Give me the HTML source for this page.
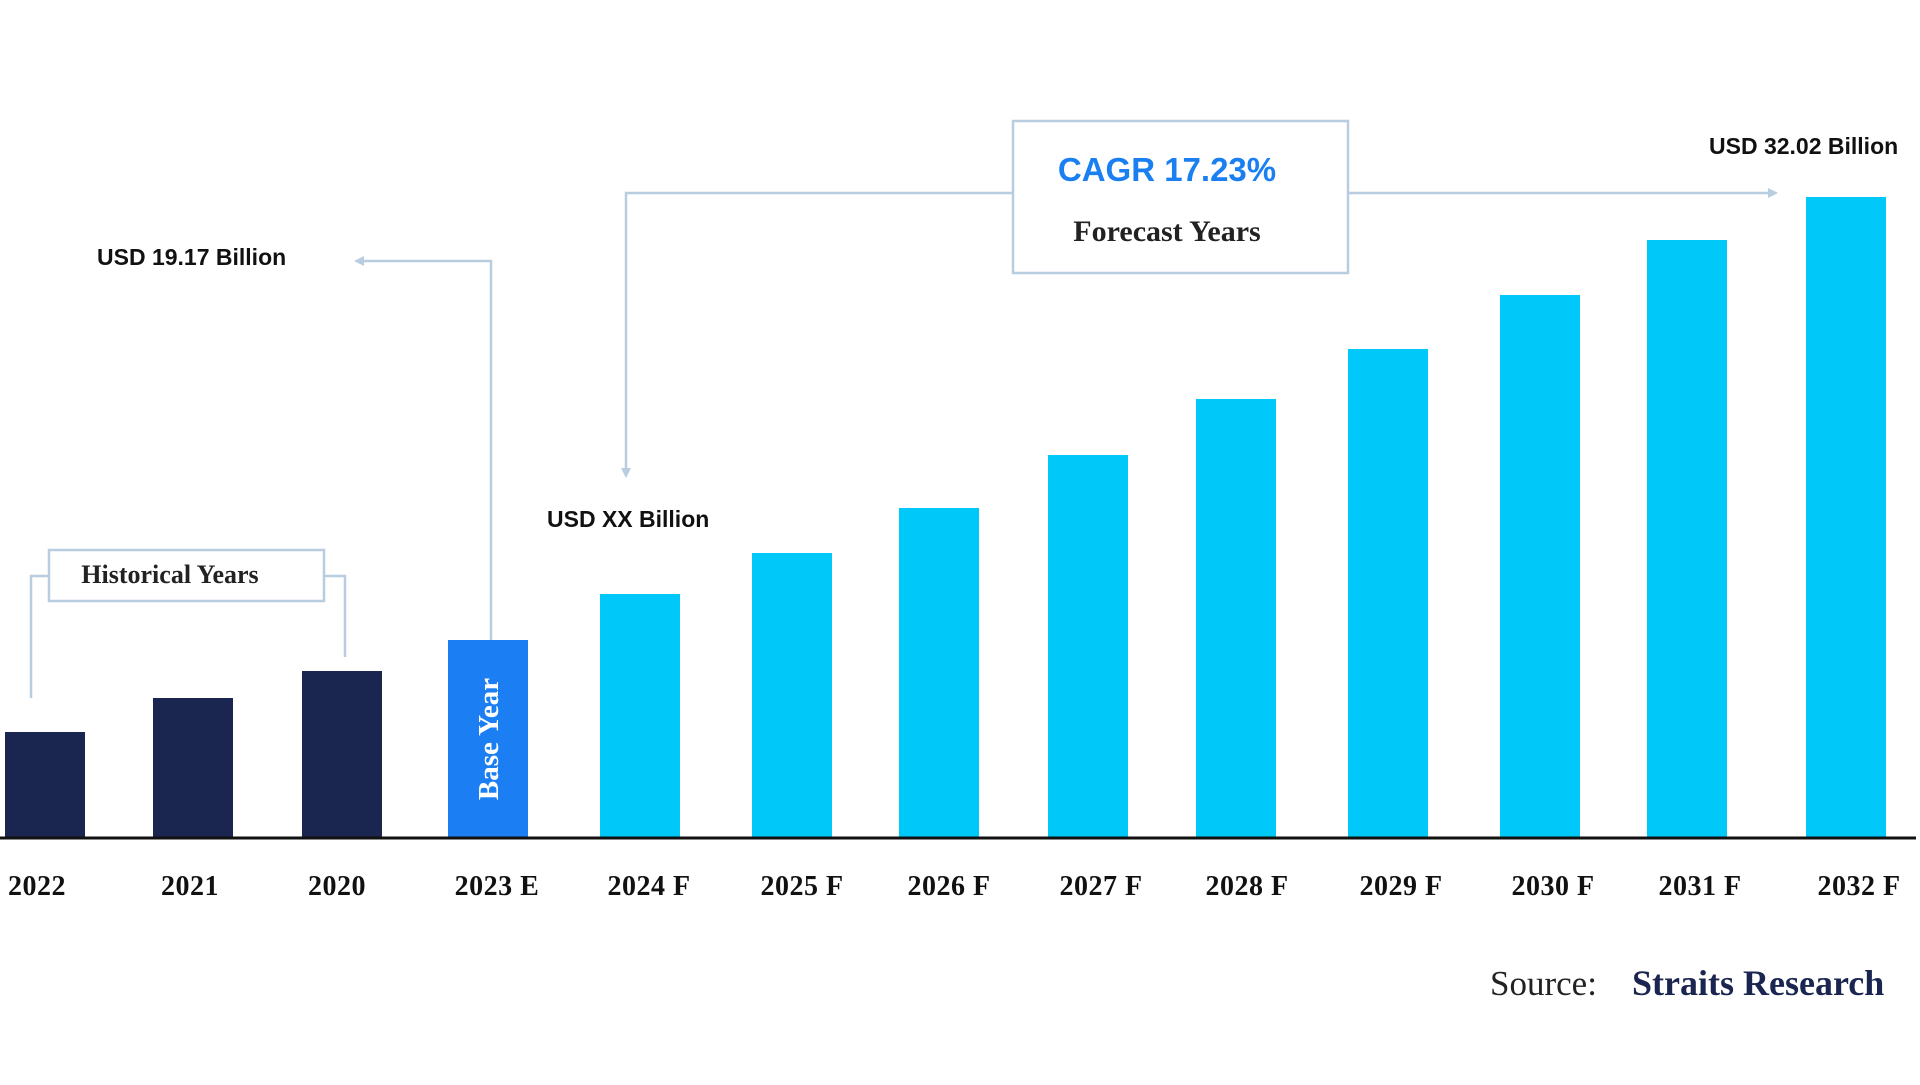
<!DOCTYPE html>
<html><head><meta charset="utf-8"><style>
html,body{margin:0;padding:0;background:#fff;}
</style></head><body>
<svg width="1920" height="1080" viewBox="0 0 1920 1080" xmlns="http://www.w3.org/2000/svg">
<rect width="1920" height="1080" fill="#fff"/>
<defs><marker id="ah" markerWidth="10" markerHeight="10" refX="8" refY="5" orient="auto" markerUnits="userSpaceOnUse"><path d="M0,0 L10,5 L0,10 z" fill="#b8cde0"/></marker></defs>
<g fill="#1a2550">
<rect x="5" y="732" width="80" height="106"/>
<rect x="153" y="698" width="80" height="140"/>
<rect x="302" y="671" width="80" height="167"/>
</g>
<rect x="448" y="640" width="80" height="198" fill="#1b7ef2"/>
<text transform="translate(498,739) rotate(-90)" text-anchor="middle" font-family="Liberation Serif, serif" font-weight="bold" font-size="29" fill="#fff">Base Year</text>
<g fill="#00c8f8">
<rect x="600" y="594" width="80" height="244"/>
<rect x="752" y="553" width="80" height="285"/>
<rect x="899" y="508" width="80" height="330"/>
<rect x="1048" y="455" width="80" height="383"/>
<rect x="1196" y="399" width="80" height="439"/>
<rect x="1348" y="349" width="80" height="489"/>
<rect x="1500" y="295" width="80" height="543"/>
<rect x="1647" y="240" width="80" height="598"/>
<rect x="1806" y="197" width="80" height="641"/>
</g>
<line x1="0" y1="838" x2="1916" y2="838" stroke="#111" stroke-width="3"/>
<g font-family="Liberation Serif, serif" font-weight="bold" font-size="28" fill="#111" text-anchor="middle" letter-spacing="0.5">
<text x="37" y="895">2022</text><text x="190" y="895">2021</text><text x="337" y="895">2020</text>
<text x="497" y="895">2023 E</text><text x="649" y="895">2024 F</text><text x="802" y="895">2025 F</text>
<text x="949" y="895">2026 F</text><text x="1101" y="895">2027 F</text><text x="1247" y="895">2028 F</text>
<text x="1401" y="895">2029 F</text><text x="1553" y="895">2030 F</text><text x="1700" y="895">2031 F</text>
<text x="1859" y="895">2032 F</text>
</g>
<text x="1490" y="995" font-family="Liberation Serif, serif" font-size="35" fill="#222">Source:</text>
<text x="1632" y="995" font-family="Liberation Serif, serif" font-weight="bold" font-size="36" fill="#1a2550">Straits Research</text>
<g stroke="#b8cde0" stroke-width="2.5" fill="none">
<rect x="49" y="550" width="275" height="51" fill="#fff"/>
<polyline points="49,576 31,576 31,698"/>
<polyline points="324,576 345,576 345,657"/>
<polyline points="491,640 491,261 356,261" marker-end="url(#ah)"/>
<rect x="1013" y="121" width="335" height="152" fill="#fff"/>
<polyline points="1013,193 626,193 626,476" marker-end="url(#ah)"/>
<polyline points="1348,193 1776,193" marker-end="url(#ah)"/>
</g>
<text x="170" y="583" text-anchor="middle" font-family="Liberation Serif, serif" font-weight="bold" font-size="26" fill="#222">Historical Years</text>
<text x="1167" y="181" text-anchor="middle" font-family="Liberation Sans, sans-serif" font-weight="bold" font-size="33" fill="#1a7ff0">CAGR 17.23%</text>
<text x="1167" y="241" text-anchor="middle" font-family="Liberation Serif, serif" font-weight="bold" font-size="30" fill="#222">Forecast Years</text>
<g font-family="Liberation Sans, sans-serif" font-weight="bold" font-size="23" fill="#111">
<text x="97" y="265">USD 19.17 Billion</text>
<text x="547" y="527">USD XX Billion</text>
<text x="1709" y="154">USD 32.02 Billion</text>
</g>
</svg>
</body></html>
